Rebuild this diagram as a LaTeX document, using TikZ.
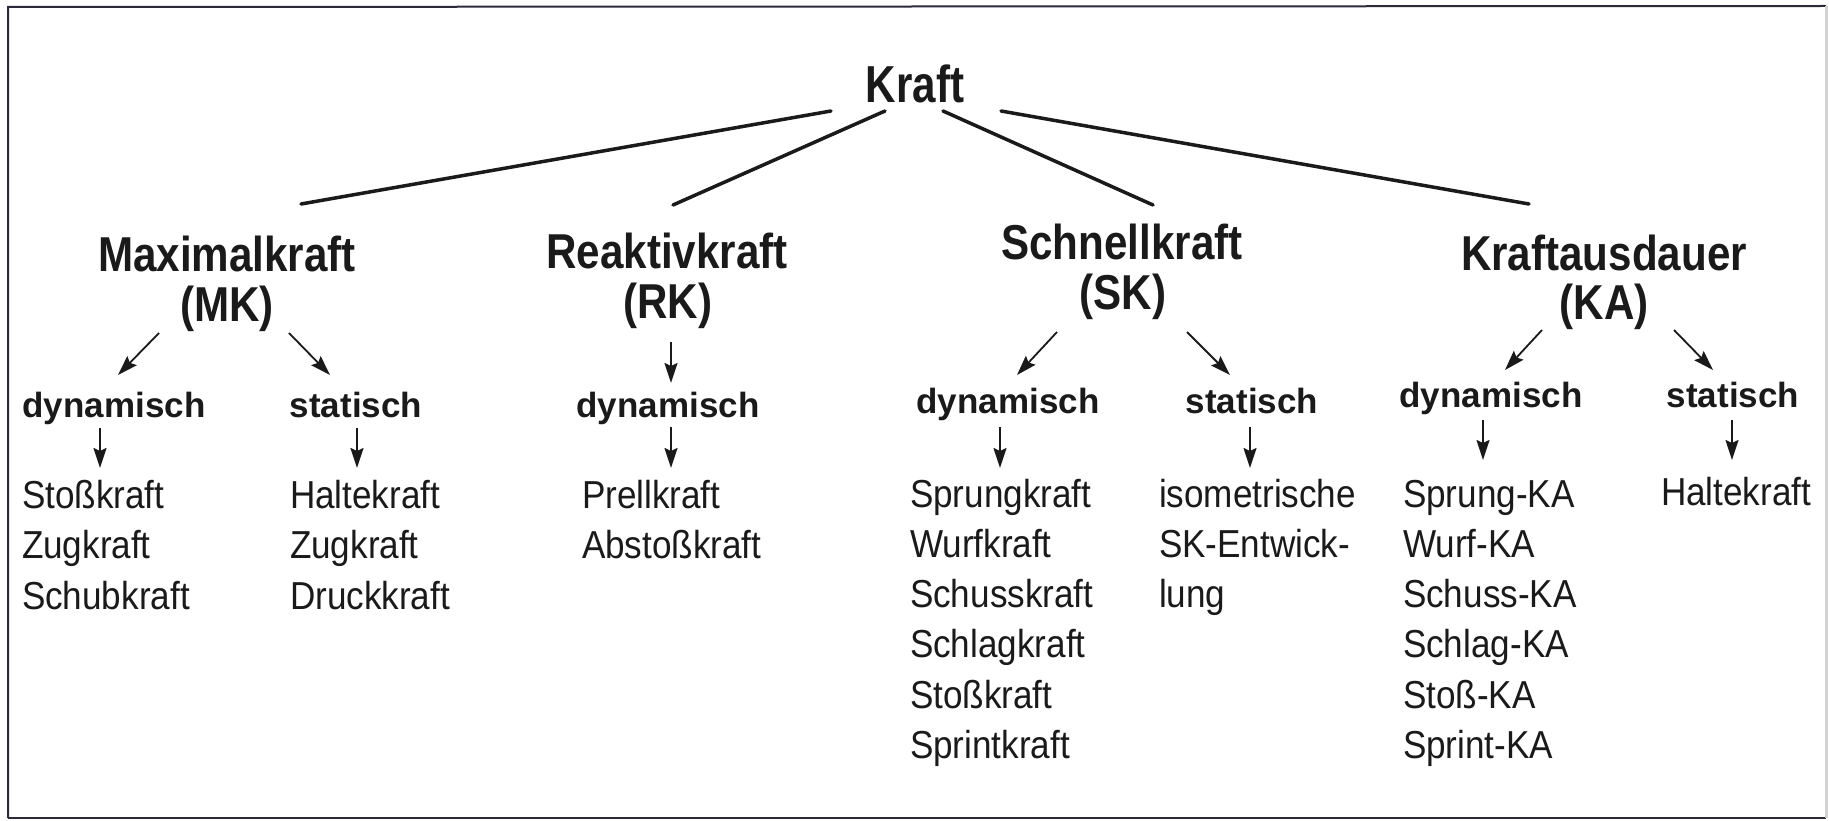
\documentclass[tikz,border=0pt]{standalone}
\usepackage{fontspec}
\setmainfont{Liberation Sans}
\newfontfamily\headfont[FakeStretch=0.86]{Liberation Sans}
\newfontfamily\rootfont[FakeStretch=0.81]{Liberation Sans}
\newfontfamily\itemfont[FakeStretch=0.9]{Liberation Sans}
\usetikzlibrary{arrows.meta}
\definecolor{ink}{HTML}{1A1A1A}
\definecolor{frameink}{HTML}{2A2A3A}
\begin{document}
\begin{tikzpicture}[x=1pt,y=-1pt,
  txt/.style={inner sep=0pt, outer sep=0pt, text=ink},
  root/.style={txt, anchor=base, font=\rootfont\bfseries\fontsize{52}{60}\selectfont},
  head/.style={txt, anchor=base, font=\headfont\bfseries\fontsize{49}{51}\selectfont},
  sub/.style={txt, anchor=base, font=\bfseries\fontsize{35}{40}\selectfont},
  item/.style={txt, anchor=base west, font=\itemfont\fontsize{39}{44}\selectfont},
  branch/.style={draw=ink, line width=3.5pt, line cap=round},
  arr/.style={draw=ink, line width=1.8pt, -{Stealth[length=20pt,width=13pt,inset=3pt]}},
]
\useasboundingbox (0,0) rectangle (1829,821);
\fill[white] (0,0) rectangle (1829,821);
% frame
\draw[frameink, line width=2pt] (8,818) -- (8,7) -- (1826,6);
\draw[frameink, line width=2pt] (8,818) -- (1826,818);
\draw[gray!35, line width=3pt] (1826,6) -- (1826,818);

% root
\node[root] (kraft) at (915,103) {Kraft};

% headings
\node[head] (mk1) at (227,272) {Maximalkraft};
\node[head] (mk2) at (227,321) {(MK)};
\node[head] (rk1) at (667,269) {Reaktivkraft};
\node[head] (rk2) at (668,318) {(RK)};
\node[head] (sk1) at (1122,260) {Schnellkraft};
\node[head] (sk2) at (1123,309) {(SK)};
\node[head] (ka1) at (1604,270) {Kraftausdauer};
\node[head] (ka2) at (1604,319) {(KA)};

% branch lines
\coordinate (k1) at (831,111);
\coordinate (k2) at (885,111);
\coordinate (k3) at (943,111);
\coordinate (k4) at (1001,111);
\coordinate (t1) at (301,204);
\coordinate (t2) at (673,205);
\coordinate (t3) at (1153,205);
\coordinate (t4) at (1529,204);
\draw[branch] (k1) -- (t1);
\draw[branch] (k2) -- (t2);
\draw[branch] (k3) -- (t3);
\draw[branch] (k4) -- (t4);

% sub labels
\node[sub] (mkdyn) at (114,417) {dynamisch};
\node[sub] (mkstat) at (356,417) {statisch};
\node[sub] (rkdyn) at (668,417) {dynamisch};
\node[sub] (skdyn) at (1008,413) {dynamisch};
\node[sub] (skstat) at (1252,413) {statisch};
\node[sub] (kadyn) at (1491,407) {dynamisch};
\node[sub] (kastat) at (1733,407) {statisch};

% arrow coordinates
\coordinate (mkA1) at (159,333); \coordinate (mkB1) at (118,375);
\coordinate (mkA2) at (289,333); \coordinate (mkB2) at (330,375);
\coordinate (mkA3) at (100,428); \coordinate (mkB3) at (100,468);
\coordinate (mkA4) at (357,428); \coordinate (mkB4) at (357,468);
\coordinate (rkA1) at (671,342); \coordinate (rkB1) at (671,383);
\coordinate (rkA2) at (671,427); \coordinate (rkB2) at (671,468);
\coordinate (skA1) at (1057,332); \coordinate (skB1) at (1017,375);
\coordinate (skA2) at (1187,332); \coordinate (skB2) at (1230,375);
\coordinate (skA3) at (1000,427); \coordinate (skB3) at (1000,468);
\coordinate (skA4) at (1250,427); \coordinate (skB4) at (1250,468);
\coordinate (kaA1) at (1542,330); \coordinate (kaB1) at (1505,370);
\coordinate (kaA2) at (1674,330); \coordinate (kaB2) at (1713,370);
\coordinate (kaA3) at (1483,420); \coordinate (kaB3) at (1483,460);
\coordinate (kaA4) at (1732,420); \coordinate (kaB4) at (1732,460);
\foreach \g in {mk,sk,ka}{
  \foreach \n in {1,2,3,4}{ \draw[arr] (\g A\n) -- (\g B\n); }
}
\draw[arr] (rkA1) -- (rkB1);
\draw[arr] (rkA2) -- (rkB2);

% item lists
\foreach \t [count=\i from 0] in {Stoßkraft,Zugkraft,Schubkraft}
  \node[item] (mkd\i) at (22,{508+50.6*\i}) {\t};
\foreach \t [count=\i from 0] in {Haltekraft,Zugkraft,Druckkraft}
  \node[item] (mks\i) at (290,{508+50.6*\i}) {\t};
\foreach \t [count=\i from 0] in {Prellkraft,Abstoßkraft}
  \node[item] (rkd\i) at (582,{508+50.6*\i}) {\t};
\foreach \t [count=\i from 0] in {Sprungkraft,Wurfkraft,Schusskraft,Schlagkraft,Stoßkraft,Sprintkraft}
  \node[item] (skd\i) at (910,{507+50.3*\i}) {\t};
\foreach \t [count=\i from 0] in {isometrische,SK-Entwick-,lung}
  \node[item] (sks\i) at (1159,{507+50.3*\i}) {\t};
\foreach \t [count=\i from 0] in {Sprung-KA,Wurf-KA,Schuss-KA,Schlag-KA,Stoß-KA,Sprint-KA}
  \node[item] (kad\i) at (1403,{507+50.3*\i}) {\t};
\node[item] (kas0) at (1661,505) {Haltekraft};
\end{tikzpicture}
\end{document}
